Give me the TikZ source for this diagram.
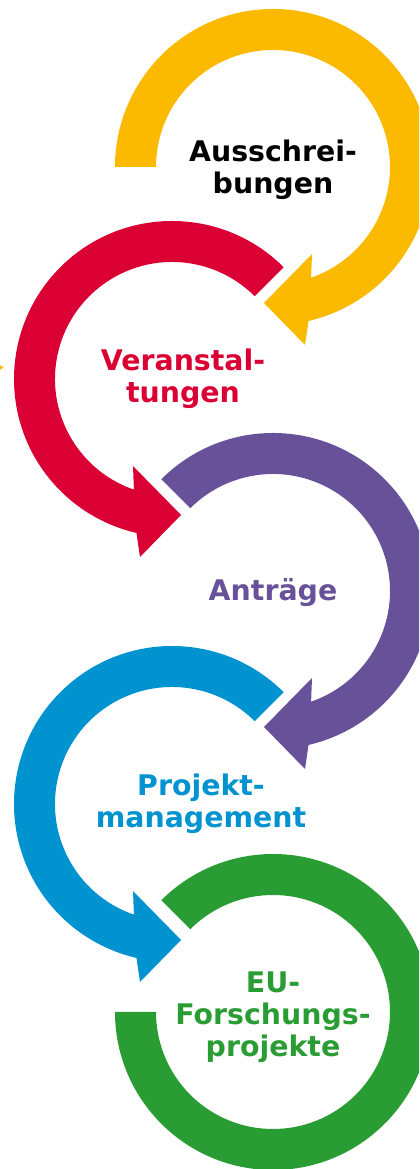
\documentclass[tikz,border=0pt]{standalone}
\usepackage{fontspec}
\setmainfont{DejaVu Sans}
\usepackage{xcolor}
\definecolor{gelb}{HTML}{FBBA00}
\definecolor{rot}{HTML}{DB0034}
\definecolor{lila}{HTML}{67529A}
\definecolor{blau}{HTML}{0093D0}
\definecolor{gruen}{HTML}{2A9C34}

\begin{document}
\begin{tikzpicture}[x=1bp,y=1bp]
\tikzstyle{ring}=[draw=none]
\tikzstyle{stage}=[font=\bfseries\fontsize{28.5}{32}\selectfont, align=center, inner sep=0pt, anchor=center]

	\useasboundingbox (0,0) rectangle (419,1169);
	\clip (0,0) rectangle (419,1169);

	% ring centres
	\coordinate (c_1) at (273,1002);
	\coordinate (c_2) at (172,790);
	\coordinate (c_3) at (273,578);
	\coordinate (c_4) at (172,365);
	\coordinate (c_5) at (273,157);

	% rings turning right
	\fill[ring,gelb,shift={(c_1)}] (180:158bp) arc[start angle=180,end angle=-77,radius=158bp]
		-- (32,-178) -- (-9,-136) -- (39,-87) -- (-71:117bp)
		arc[start angle=-71,end angle=180,radius=117bp] -- cycle;
	\fill[ring,lila,shift={(c_3)}] (135:158bp) arc[start angle=135,end angle=-77,radius=158bp]
		-- (32,-178) -- (-9,-136) -- (39,-87) -- (-71:117bp)
		arc[start angle=-71,end angle=135,radius=117bp] -- cycle;
	% rings turning left
	\fill[ring,rot,shift={(c_2)}] (45:158bp) arc[start angle=45,end angle=257,radius=158bp]
		-- (-32,-178) -- (9,-136) -- (-39,-87) -- (251:117bp)
		arc[start angle=251,end angle=45,radius=117bp] -- cycle;
	\fill[ring,blau,shift={(c_4)}] (45:158bp) arc[start angle=45,end angle=257,radius=158bp]
		-- (-32,-178) -- (9,-136) -- (-39,-87) -- (251:117bp)
		arc[start angle=251,end angle=45,radius=117bp] -- cycle;
	% last ring, no head
	\fill[ring,gruen,shift={(c_5)}] (180:158bp) arc[start angle=180,end angle=495,radius=158bp]
		-- (495:117bp) arc[start angle=495,end angle=180,radius=117bp] -- cycle;
	% tip at the left edge
	\fill[gelb] (0,804) -- (3.5,801.5) -- (0,799) -- cycle;

	\node[stage,text=black] (t_1) at ([yshift=-3bp]c_1) {Ausschrei-\\bungen};
	\node[stage,text=rot]   (t_2) at ([xshift=11bp]c_2) {Veranstal-\\tungen};
	\node[stage,text=lila]  (t_3) at ([yshift=-2bp]c_3) {Anträge};
	\node[stage,text=blau]  (t_4) at ([xshift=29bp]c_4) {Projekt-\\management};
	\node[stage,text=gruen] (t_5) at ([yshift=-5bp]c_5) {EU-\\Forschungs-\\projekte};
\end{tikzpicture}
\end{document}
